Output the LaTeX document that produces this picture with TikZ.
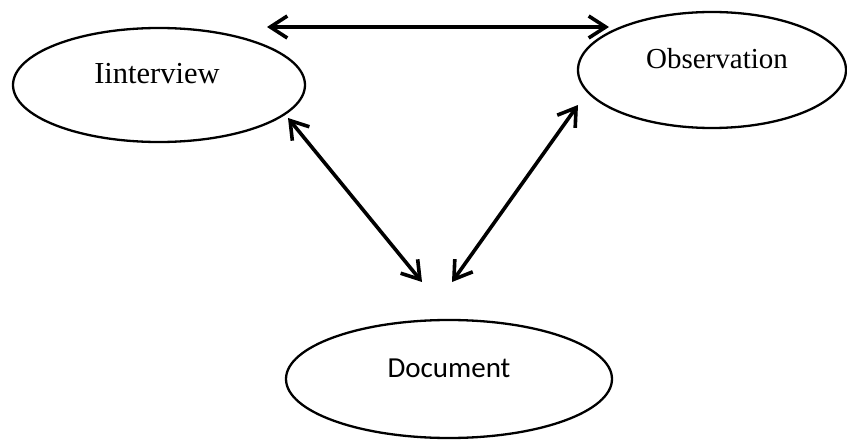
\documentclass[tikz,border=0pt]{standalone}
\usepackage{fontspec}
\setmainfont{Liberation Serif}
\newfontfamily\calibrifont{Carlito}
\usetikzlibrary{shapes.geometric,arrows.meta}
\tikzset{
  oval/.style={ellipse,draw=black,line width=2.3pt,inner sep=0pt,fill=white},
  lbl/.style={inner sep=0pt,anchor=center},
  dblarrow/.style={line width=3.6pt,{Straight Barb[length=17pt,width=22pt,line width=3.6pt]}-{Straight Barb[length=17pt,width=22pt,line width=3.6pt]}}
}
\begin{document}
\begin{tikzpicture}[x=1pt,y=-1pt]
\useasboundingbox[fill=white] (0,0) rectangle (847,441);
% ellipses
\node[oval,minimum width=292pt,minimum height=114pt] (intv) at (159,85) {};
\node[oval,minimum width=268pt,minimum height=116pt] (obs) at (712,70) {};
\node[oval,minimum width=326pt,minimum height=118pt] (doc) at (449,379) {};
% labels
\node[lbl,font=\fontsize{30.5}{36}\selectfont] (intvtext) at (157,74) {Iinterview};
\node[lbl,font=\fontsize{29}{34}\selectfont] (obstext) at (717,59) {Observation};
\node[lbl,font=\calibrifont\fontsize{29}{34}\selectfont] (doctext) at (449,368) {Document};
% arrow end points
\coordinate (h1) at (267,27);
\coordinate (h2) at (609,27);
\coordinate (l1) at (288,118);
\coordinate (l2) at (422,282);
\coordinate (r1) at (578,105);
\coordinate (r2) at (452,282);
\draw[dblarrow] (h1) -- (h2);
\draw[dblarrow] (l1) -- (l2);
\draw[dblarrow] (r1) -- (r2);
\end{tikzpicture}
\end{document}
